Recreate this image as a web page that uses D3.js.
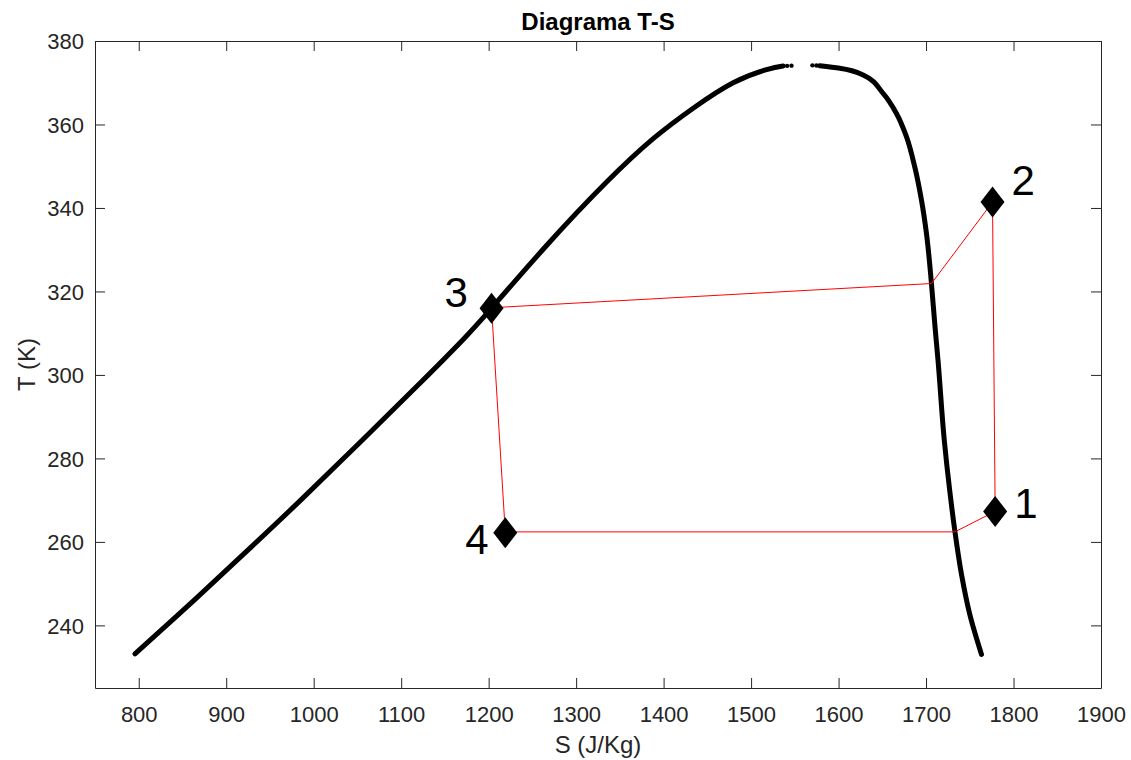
<!DOCTYPE html>
<html>
<head>
<meta charset="utf-8">
<script src="https://cdn.jsdelivr.net/npm/d3@7"></script>
<style>
  html, body { margin: 0; padding: 0; background: #fff; }
  svg { display: block; font-family: "Liberation Sans", Arial, Helvetica, sans-serif; }
</style>
</head>
<body>
<svg id="chart" width="1131" height="760"></svg>
<script>
// ---- Data ----
const xTicks = [800, 900, 1000, 1100, 1200, 1300, 1400, 1500, 1600, 1700, 1800, 1900];
const yTicks = [240, 260, 280, 300, 320, 340, 360, 380];

// saturated liquid line (S in J/Kg, T in K)
const liqS = [795.7, 866.2, 934.8, 988.1, 1056.6, 1121.4, 1170.9, 1203.3, 1266.2, 1334.8, 1388.1, 1433.8, 1479.5, 1517.7, 1536.6];
const liqT = [233.2, 246.6, 260.0, 270.6, 284.6, 298.0, 308.5, 316.0, 331.0, 346.2, 356.6, 363.9, 370.0, 373.15, 374.0];
// sparse points close to the critical point
const critS = [1541.2, 1546.2, 1570.1, 1574.7];
const critT = [374.05, 374.1, 374.17, 374.12];
// saturated vapour line
const vapS = [1578.5, 1601.4, 1628.1, 1650.9, 1666.2, 1677.7, 1687.1, 1694.8, 1700.5, 1706.2, 1710.3, 1713.7, 1720.9, 1727.1, 1732.9, 1740.5, 1750.0, 1763.4];
const vapT = [374.05, 373.45, 371.84, 367.45, 362.65, 357.03, 349.83, 341.84, 333.85, 321.85, 311.43, 303.44, 284.24, 272.24, 262.64, 252.25, 242.65, 233.05];

// refrigeration cycle path
const cycleS = [1779.0, 1776.0, 1706.2, 1203.3, 1219.0, 1732.9, 1779.0];
const cycleT = [267.3, 341.4, 321.9, 316.1, 262.4, 262.4, 267.3];

// cycle state points
const stateLabels = ["1", "2", "3", "4"];
const stateS = [1779.0, 1776.0, 1203.3, 1219.0];
const stateT = [267.3, 341.4, 316.0, 262.2];

// ---- Layout ----
const m = { left: 95, top: 41, right: 1101, bottom: 688 };
const axisColor = "#262626";
const fontFam = "'Liberation Sans', Arial, Helvetica, sans-serif";

const x = d3.scaleLinear().domain([750, 1900]).range([m.left, m.right]);
const y = d3.scaleLinear().domain([225, 380]).range([m.bottom, m.top]);

const svg = d3.select("#chart");
const fmt = d3.format("d");

// axes
const gx = svg.append("g").attr("transform", `translate(0,${m.bottom})`)
  .call(d3.axisBottom(x).tickValues(xTicks).tickFormat(fmt).tickSizeInner(-10).tickSizeOuter(0).tickPadding(18));
const gxTop = svg.append("g").attr("transform", `translate(0,${m.top})`)
  .call(d3.axisTop(x).tickValues(xTicks).tickSizeInner(-10).tickSizeOuter(0).tickFormat(""));
const gy = svg.append("g").attr("transform", `translate(${m.left},0)`)
  .call(d3.axisLeft(y).tickValues(yTicks).tickFormat(fmt).tickSizeInner(-10).tickSizeOuter(0).tickPadding(11));
const gyR = svg.append("g").attr("transform", `translate(${m.right},0)`)
  .call(d3.axisRight(y).tickValues(yTicks).tickSizeInner(-10).tickSizeOuter(0).tickFormat(""));

[gx, gxTop, gy, gyR].forEach(g => {
  g.selectAll("path.domain").attr("stroke", axisColor).attr("stroke-width", 1);
  g.selectAll(".tick line").attr("stroke", axisColor).attr("stroke-width", 1);
  g.selectAll(".tick text").attr("fill", axisColor).attr("font-size", 22).attr("font-family", fontFam);
});
gx.selectAll(".tick text").attr("dy", "0.71em");
gy.selectAll(".tick text").attr("dy", "0.36em");

// clip
svg.append("clipPath").attr("id", "clip").append("rect")
  .attr("x", m.left).attr("y", m.top).attr("width", m.right - m.left).attr("height", m.bottom - m.top);

const plot = svg.append("g").attr("clip-path", "url(#clip)");

const liq = liqS.map((s, i) => [s, liqT[i]]);
const vap = vapS.map((s, i) => [s, vapT[i]]);
const crit = critS.map((s, i) => [s, critT[i]]);

plot.append("path").datum(liq)
  .attr("d", d3.line().x(d => x(d[0])).y(d => y(d[1])).curve(d3.curveNatural))
  .attr("fill", "none").attr("stroke", "#000").attr("stroke-width", 5)
  .attr("stroke-linecap", "round").attr("stroke-linejoin", "round");
plot.append("path").datum(vap)
  .attr("d", d3.line().x(d => x(d[0])).y(d => y(d[1])).curve(d3.curveMonotoneY))
  .attr("fill", "none").attr("stroke", "#000").attr("stroke-width", 5)
  .attr("stroke-linecap", "round").attr("stroke-linejoin", "round");
plot.selectAll("circle.crit").data(crit).enter().append("circle")
  .attr("class", "crit").attr("cx", d => x(d[0])).attr("cy", d => y(d[1])).attr("r", 2.2).attr("fill", "#000");

// cycle
const cyc = cycleS.map((s, i) => [s, cycleT[i]]);
plot.append("path").datum(cyc)
  .attr("d", d3.line().x(d => x(d[0])).y(d => y(d[1])))
  .attr("fill", "none").attr("stroke", "#ff0000").attr("stroke-width", 1);

// state markers (diamonds)
const states = stateS.map((s, i) => ({ s, t: stateT[i], label: stateLabels[i] }));
plot.selectAll("path.state").data(states).enter().append("path")
  .attr("class", "state")
  .attr("transform", d => `translate(${x(d.s)},${y(d.t)})`)
  .attr("d", "M0,-15.5L12,0L0,15.5L-12,0Z")
  .attr("fill", "#000");

// state labels
const labelOffset = { "1": [19, 6.6], "2": [19, -6.7], "3": [-47, -1], "4": [-40, 21.6] };
svg.selectAll("text.state").data(states).enter().append("text")
  .attr("class", "state")
  .attr("x", d => x(d.s) + labelOffset[d.label][0])
  .attr("y", d => y(d.t) + labelOffset[d.label][1])
  .attr("font-size", 42).attr("fill", "#000").attr("font-family", fontFam)
  .text(d => d.label);

// titles
svg.append("text").attr("x", (m.left + m.right) / 2).attr("y", 30)
  .attr("text-anchor", "middle").attr("font-size", 24).attr("font-weight", "bold").attr("fill", "#000")
  .text("Diagrama T-S");
svg.append("text").attr("x", (m.left + m.right) / 2).attr("y", 753)
  .attr("text-anchor", "middle").attr("font-size", 24).attr("fill", axisColor)
  .text("S (J/Kg)");
svg.append("text").attr("transform", `translate(35,${(m.top + m.bottom) / 2}) rotate(-90)`)
  .attr("text-anchor", "middle").attr("font-size", 24).attr("fill", axisColor)
  .text("T (K)");
</script>
</body>
</html>
